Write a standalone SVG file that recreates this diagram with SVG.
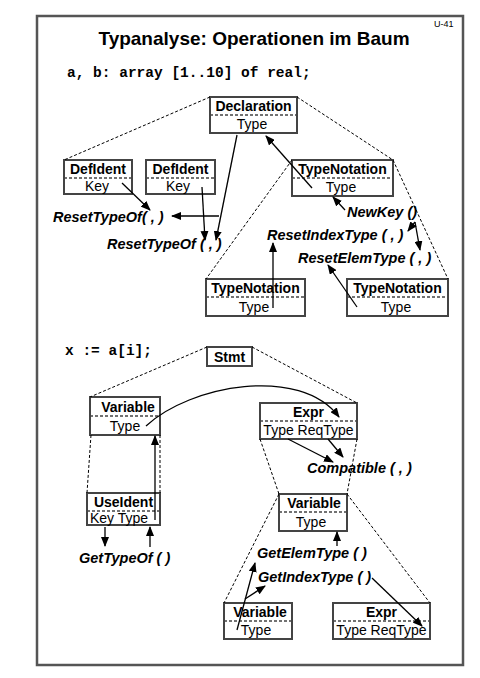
<svg xmlns="http://www.w3.org/2000/svg" width="480" height="678" viewBox="0 0 480 678">
<style>
.box{fill:#fff;stroke:#444;stroke-width:2}
.div{stroke:#444;stroke-width:1.3;stroke-dasharray:3,2;fill:none}
.lbl{font-family:"Liberation Sans",Arial,sans-serif;font-weight:bold;font-size:14px;text-anchor:middle;fill:#000}
.att{font-family:"Liberation Sans",Arial,sans-serif;font-size:14px;text-anchor:middle;fill:#000}
.atts{font-family:"Liberation Sans",Arial,sans-serif;font-size:14px;text-anchor:start;fill:#000}
.fn{font-family:"Liberation Sans",Arial,sans-serif;font-weight:bold;font-style:italic;font-size:14.5px;fill:#000}
.code{font-family:"Liberation Mono","Courier New",monospace;font-weight:bold;font-size:14.5px;fill:#000}
.tree{stroke:#000;stroke-width:1;stroke-dasharray:3,2;fill:none}
.arr{stroke:#000;stroke-width:1.3;fill:none;marker-end:url(#ah)}
</style>
<defs>
<marker id="ah" markerUnits="userSpaceOnUse" markerWidth="10" markerHeight="8" refX="9" refY="4" orient="auto">
<path d="M0,0 L10,4 L0,8 Z" fill="#000"/>
</marker>
</defs>
<rect x="0" y="0" width="480" height="678" fill="#fff"/>
<rect x="37" y="16" width="426" height="649" fill="none" stroke="#555" stroke-width="2.5"/>
<text x="434" y="27" font-family="Liberation Sans,Arial,sans-serif" font-size="9" fill="#000">U-41</text>
<text x="254" y="45" font-family="Liberation Sans,Arial,sans-serif" font-weight="bold" font-size="19" text-anchor="middle" fill="#000">Typanalyse: Operationen im Baum</text>
<text x="67" y="77" class="code">a, b: array [1..10] of real;</text>
<text x="65" y="355" class="code">x := a[i];</text>

<g id="declaration">
<rect class="box" x="210" y="97" width="87" height="36"/>
<line class="div" x1="210" y1="115" x2="297" y2="115"/>
<text class="lbl" x="253.5" y="111">Declaration</text>
<text class="att" x="252" y="129">Type</text>
</g>
<g id="defident1">
<rect class="box" x="64" y="160" width="68" height="34"/>
<line class="div" x1="64" y1="178" x2="132" y2="178"/>
<text class="lbl" x="98" y="174">DefIdent</text>
<text class="att" x="97" y="191">Key</text>
</g>
<g id="defident2">
<rect class="box" x="146" y="160" width="69" height="34"/>
<line class="div" x1="146" y1="178" x2="215" y2="178"/>
<text class="lbl" x="180.5" y="174">DefIdent</text>
<text class="att" x="178" y="191">Key</text>
</g>
<g id="typenotation1">
<rect class="box" x="292" y="160" width="101" height="36"/>
<line class="div" x1="292" y1="178" x2="393" y2="178"/>
<text class="lbl" x="342.5" y="174">TypeNotation</text>
<text class="att" x="341" y="192">Type</text>
</g>
<g id="typenotation2">
<rect class="box" x="206" y="279" width="99" height="37"/>
<line class="div" x1="206" y1="297" x2="305" y2="297"/>
<text class="lbl" x="255.5" y="293">TypeNotation</text>
<text class="att" x="254" y="312">Type</text>
</g>
<g id="typenotation3">
<rect class="box" x="347" y="279" width="101" height="37"/>
<line class="div" x1="347" y1="297" x2="448" y2="297"/>
<text class="lbl" x="397.5" y="293">TypeNotation</text>
<text class="att" x="396" y="312">Type</text>
</g>

<g id="stmt">
<rect class="box" x="207" y="347" width="45" height="19"/>
<text class="lbl" x="229.5" y="362">Stmt</text>
</g>
<g id="variable1">
<rect class="box" x="90" y="397" width="70" height="38"/>
<line class="div" x1="90" y1="416" x2="160" y2="416"/>
<text class="lbl" x="128" y="412">Variable</text>
<text class="att" x="125" y="431">Type</text>
</g>
<g id="useident">
<rect class="box" x="87" y="493" width="73" height="32"/>
<line class="div" x1="87" y1="511" x2="160" y2="511"/>
<text class="lbl" x="123.5" y="507">UseIdent</text>
<text class="atts" x="90" y="523">Key Type</text>
</g>
<g id="expr1">
<rect class="box" x="260" y="403" width="97" height="36"/>
<line class="div" x1="260" y1="421" x2="357" y2="421"/>
<text class="lbl" x="308.5" y="417">Expr</text>
<text class="att" x="308.5" y="435">Type ReqType</text>
</g>
<g id="variable2">
<rect class="box" x="279" y="494" width="68" height="37"/>
<line class="div" x1="279" y1="512" x2="347" y2="512"/>
<text class="lbl" x="314" y="508">Variable</text>
<text class="att" x="311" y="527">Type</text>
</g>
<g id="variable3">
<rect class="box" x="224" y="603" width="68" height="36"/>
<line class="div" x1="224" y1="621" x2="292" y2="621"/>
<text class="lbl" x="260" y="617">Variable</text>
<text class="att" x="256" y="635">Type</text>
</g>
<g id="expr2">
<rect class="box" x="333" y="603" width="97" height="36"/>
<line class="div" x1="333" y1="621" x2="430" y2="621"/>
<text class="lbl" x="381.5" y="617">Expr</text>
<text class="att" x="381.5" y="635">Type ReqType</text>
</g>

<g id="connectors">
<line class="tree" x1="210" y1="97" x2="64" y2="160"/>
<line class="tree" x1="297" y1="97" x2="393" y2="160"/>
<line class="tree" x1="292" y1="160" x2="206" y2="279"/>
<line class="tree" x1="393" y1="160" x2="448" y2="279"/>
<line class="tree" x1="207" y1="347" x2="90" y2="397"/>
<line class="tree" x1="252" y1="347" x2="357" y2="403"/>
<line class="tree" x1="91" y1="435" x2="87" y2="493"/>
<line class="tree" x1="160" y1="435" x2="160" y2="493"/>
<line class="tree" x1="260" y1="439" x2="279" y2="494"/>
<line class="tree" x1="357" y1="439" x2="347" y2="494"/>
<line class="tree" x1="279" y1="494" x2="224" y2="603"/>
<line class="tree" x1="347" y1="494" x2="430" y2="603"/>

<line class="arr" x1="122" y1="183" x2="150" y2="210"/>
<line class="arr" x1="219" y1="216" x2="172" y2="216"/>
<line class="arr" x1="202" y1="187" x2="205" y2="240"/>
<line class="arr" x1="237" y1="135" x2="216" y2="240"/>
<line class="arr" x1="312" y1="188" x2="266" y2="136"/>
<line class="arr" x1="345" y1="210" x2="333" y2="197"/>
<line class="arr" x1="415" y1="222" x2="408" y2="231"/>
<line class="arr" x1="415" y1="222" x2="420" y2="250"/>
<line class="arr" x1="357" y1="307" x2="328" y2="265"/>
<line class="arr" x1="273" y1="308" x2="273" y2="243"/>

<line class="arr" x1="155" y1="520" x2="155" y2="436"/>
<line class="arr" x1="105" y1="527" x2="105" y2="546"/>
<line class="arr" x1="150" y1="547" x2="150" y2="527"/>
<path class="arr" d="M146,426 C190,385 300,365 339,417"/>
<line class="arr" x1="288" y1="439" x2="333" y2="462"/>
<line class="arr" x1="328" y1="439" x2="343" y2="457"/>
<line class="arr" x1="337" y1="546" x2="337" y2="532"/>
<line class="arr" x1="237" y1="630" x2="255" y2="563"/>
<line class="arr" x1="245" y1="599" x2="265" y2="586"/>
<line class="arr" x1="372" y1="578" x2="422" y2="626"/>
</g>

<g id="labels">
<text x="53" y="222" class="fn">ResetTypeOf( , )</text>
<text x="107" y="249" class="fn">ResetTypeOf ( , )</text>
<text x="347" y="217" class="fn">NewKey ()</text>
<text x="267" y="240" class="fn" font-size="13.5">ResetIndexType ( , )</text>
<text x="298" y="263" class="fn" font-size="13.5">ResetElemType ( , )</text>
<text x="79" y="563" class="fn">GetTypeOf ( )</text>
<text x="307" y="473" class="fn">Compatible ( , )</text>
<text x="257" y="558" class="fn">GetElemType ( )</text>
<text x="258" y="582" class="fn">GetIndexType ( )</text>
</g>
</svg>
